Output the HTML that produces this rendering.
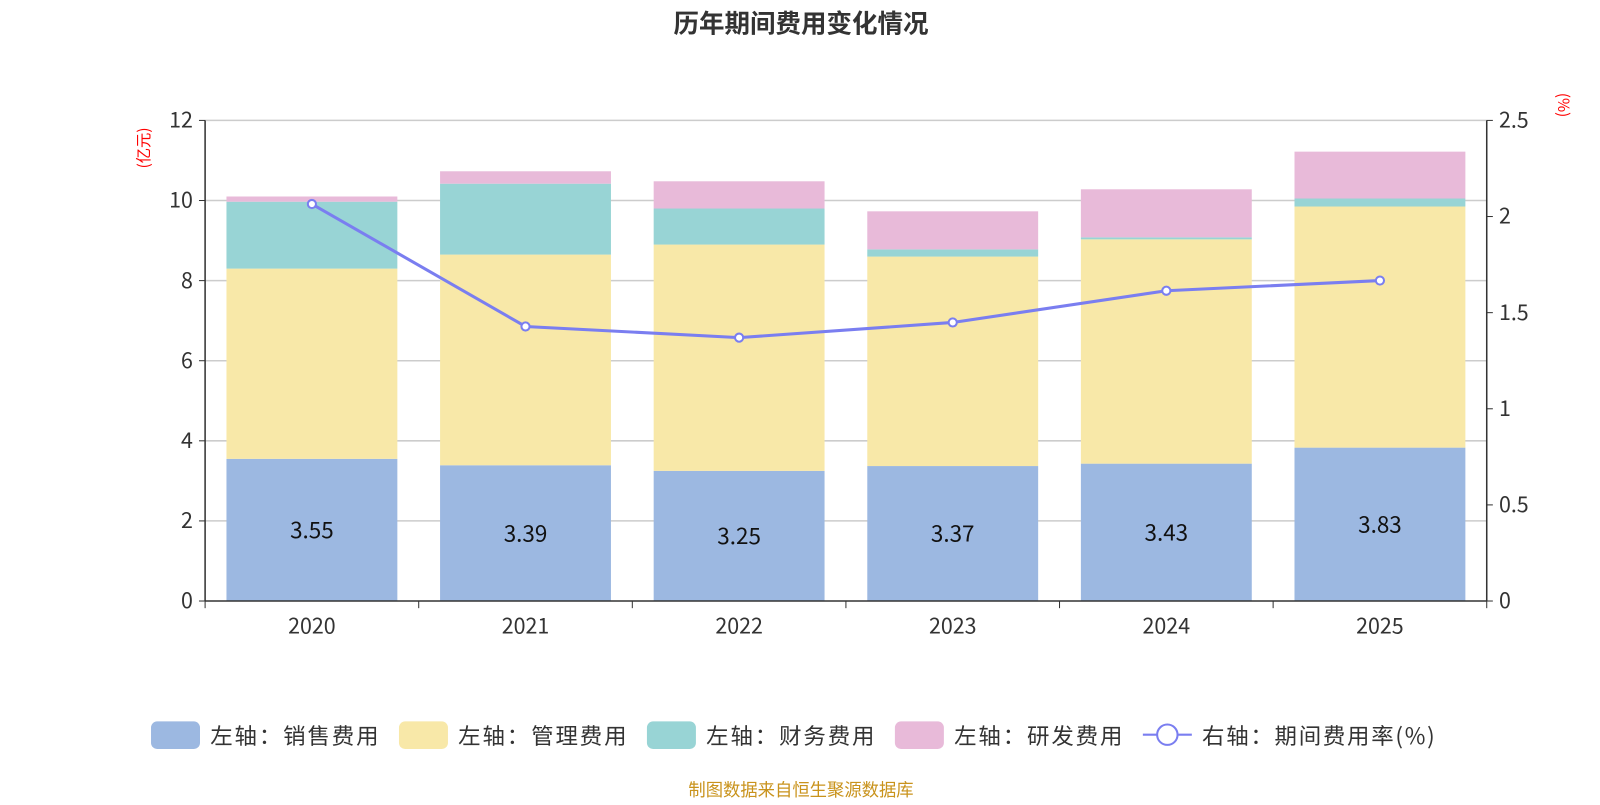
<!DOCTYPE html>
<html><head><meta charset="utf-8"><style>
body{margin:0;background:#fff;width:1600px;height:800px;overflow:hidden;font-family:"Noto Sans CJK SC","Liberation Sans",sans-serif}
</style></head><body>
<svg id="c" width="1600" height="800" viewBox="0 0 1568 784" xmlns="http://www.w3.org/2000/svg" style="font-family:'Noto Sans CJK SC','Liberation Sans',sans-serif">
<text x="785" y="32" text-anchor="middle" font-size="25" font-weight="bold" fill="#333">历年期间费用变化情况</text>
<text transform="translate(146,145) rotate(-90)" text-anchor="middle" font-size="15" fill="#f00">(亿元)</text>
<text transform="translate(1527,103) rotate(90)" text-anchor="middle" font-size="15" fill="#f00">(%)</text>
<g id="grid"></g><g id="bars"></g><g id="axes"></g><g id="line"></g>
<g id="legend"></g>
<text x="785" y="780" text-anchor="middle" font-size="17" fill="#c9931c">制图数据来自恒生聚源数据库</text>
</svg>
<script>
const categories=['2020','2021','2022','2023','2024','2025'];
const sales=[3.55,3.39,3.25,3.37,3.43,3.83];
const mgmt=[4.75,5.26,5.65,5.23,5.6,6.02];
const fin=[1.67,1.77,0.9,0.18,0.05,0.2];
const rd=[0.13,0.31,0.68,0.95,1.2,1.17];
const rate=[2.065,1.428,1.37,1.449,1.614,1.667];
const leftTicks=[0,2,4,6,8,10,12];
const rightTicks=['0','0.5','1','1.5','2','2.5'];
const NS='http://www.w3.org/2000/svg';
const X0=201,X1=1457,Y0=589,Y1=118;
const bw=(X1-X0)/categories.length;
const yL=v=>Y0-(v/12)*(Y0-Y1);
const yR=v=>Y0-(v/2.5)*(Y0-Y1);
const xC=i=>X0+bw*(i+0.5);
function mk(tag,attrs,parent,txt){const e=document.createElementNS(NS,tag);for(const k in attrs)e.setAttribute(k,attrs[k]);if(txt!==undefined)e.textContent=txt;document.getElementById(parent).appendChild(e);return e;}
leftTicks.forEach(t=>{
 if(t>0){const g=mk('line',{x1:X0,x2:X1,y1:yL(t),y2:yL(t),stroke:'#ccc','stroke-width':1.5},'grid');
 
 }
 const l=mk('text',{x:X0-12,y:yL(t)+7,'text-anchor':'end','font-size':21,fill:'#333'},'axes',String(t));
 
 
 mk('line',{x1:X0-6,x2:X0,y1:yL(t),y2:yL(t),stroke:'#333'},'axes');
});
rightTicks.forEach(t=>{
 const l=mk('text',{x:X1+12,y:yR(+t)+7,'font-size':21,fill:'#333'},'axes',t);
 
 
 mk('line',{x1:X1,x2:X1+6,y1:yR(+t),y2:yR(+t),stroke:'#333'},'axes');
});
mk('line',{x1:X0,x2:X0,y1:Y1,y2:Y0,stroke:'#333','stroke-width':1.5},'axes');
mk('line',{x1:X1,x2:X1,y1:Y1,y2:Y0,stroke:'#333','stroke-width':1.5},'axes');
mk('line',{x1:X0,x2:X1,y1:Y0,y2:Y0,stroke:'#333','stroke-width':1.5},'axes');
for(let i=0;i<=categories.length;i++)mk('line',{x1:X0+bw*i,x2:X0+bw*i,y1:Y0,y2:Y0+7,stroke:'#333'},'axes');
const series=[[sales,'#9cb8e1','bar-sales'],[mgmt,'#f8e8a8','bar-management'],[fin,'#98d4d5','bar-finance'],[rd,'#e8bad9','bar-rd']];
categories.forEach((c,i)=>{
 const cl=mk('text',{x:xC(i),y:Y0+32,'text-anchor':'middle','font-size':21,fill:'#333'},'axes',c);
 
 
 let base=0;
 series.forEach(([arr,col,nm])=>{
  const r=mk('rect',{x:xC(i)-bw*0.4,width:bw*0.8,y:yL(base+arr[i]),height:yL(base)-yL(base+arr[i]),fill:col},'bars');
  
  
  base+=arr[i];
 });
 const v=mk('text',{x:xC(i),y:(yL(0)+yL(sales[i]))/2+8,'text-anchor':'middle','font-size':22,fill:'#111'},'bars',sales[i].toFixed(2));
 
 
});
const p=mk('polyline',{points:rate.map((r,i)=>xC(i)+','+yR(r)).join(' '),fill:'none',stroke:'#7a7ef0','stroke-width':3},'line');


rate.forEach((r,i)=>{const d=mk('circle',{cx:xC(i),cy:yR(r),r:4,fill:'#fff',stroke:'#7a7ef0','stroke-width':2},'line');
 
 });
const legend=[['左轴：销售费用','#9cb8e1',148],['左轴：管理费用','#f8e8a8',391],['左轴：财务费用','#98d4d5',634],['左轴：研发费用','#e8bad9',877]];
legend.forEach(([t,c,x])=>{
 const r=mk('rect',{x:x,y:707,width:48,height:27,rx:6,fill:c},'legend');
 
 
 const l=mk('text',{x:x+58,y:729,'font-size':22,fill:'#333',textLength:165},'legend',t);
 
 
});
mk('line',{x1:1120,x2:1168,y1:720,y2:720,stroke:'#7a7ef0','stroke-width':2},'legend');
mk('circle',{cx:1144,cy:720,r:10,fill:'#fff',stroke:'#7a7ef0','stroke-width':2},'legend');
const ll=mk('text',{x:1178,y:729,'font-size':22,fill:'#333',textLength:228},'legend','右轴：期间费用率(%)');


</script>
</body></html>
